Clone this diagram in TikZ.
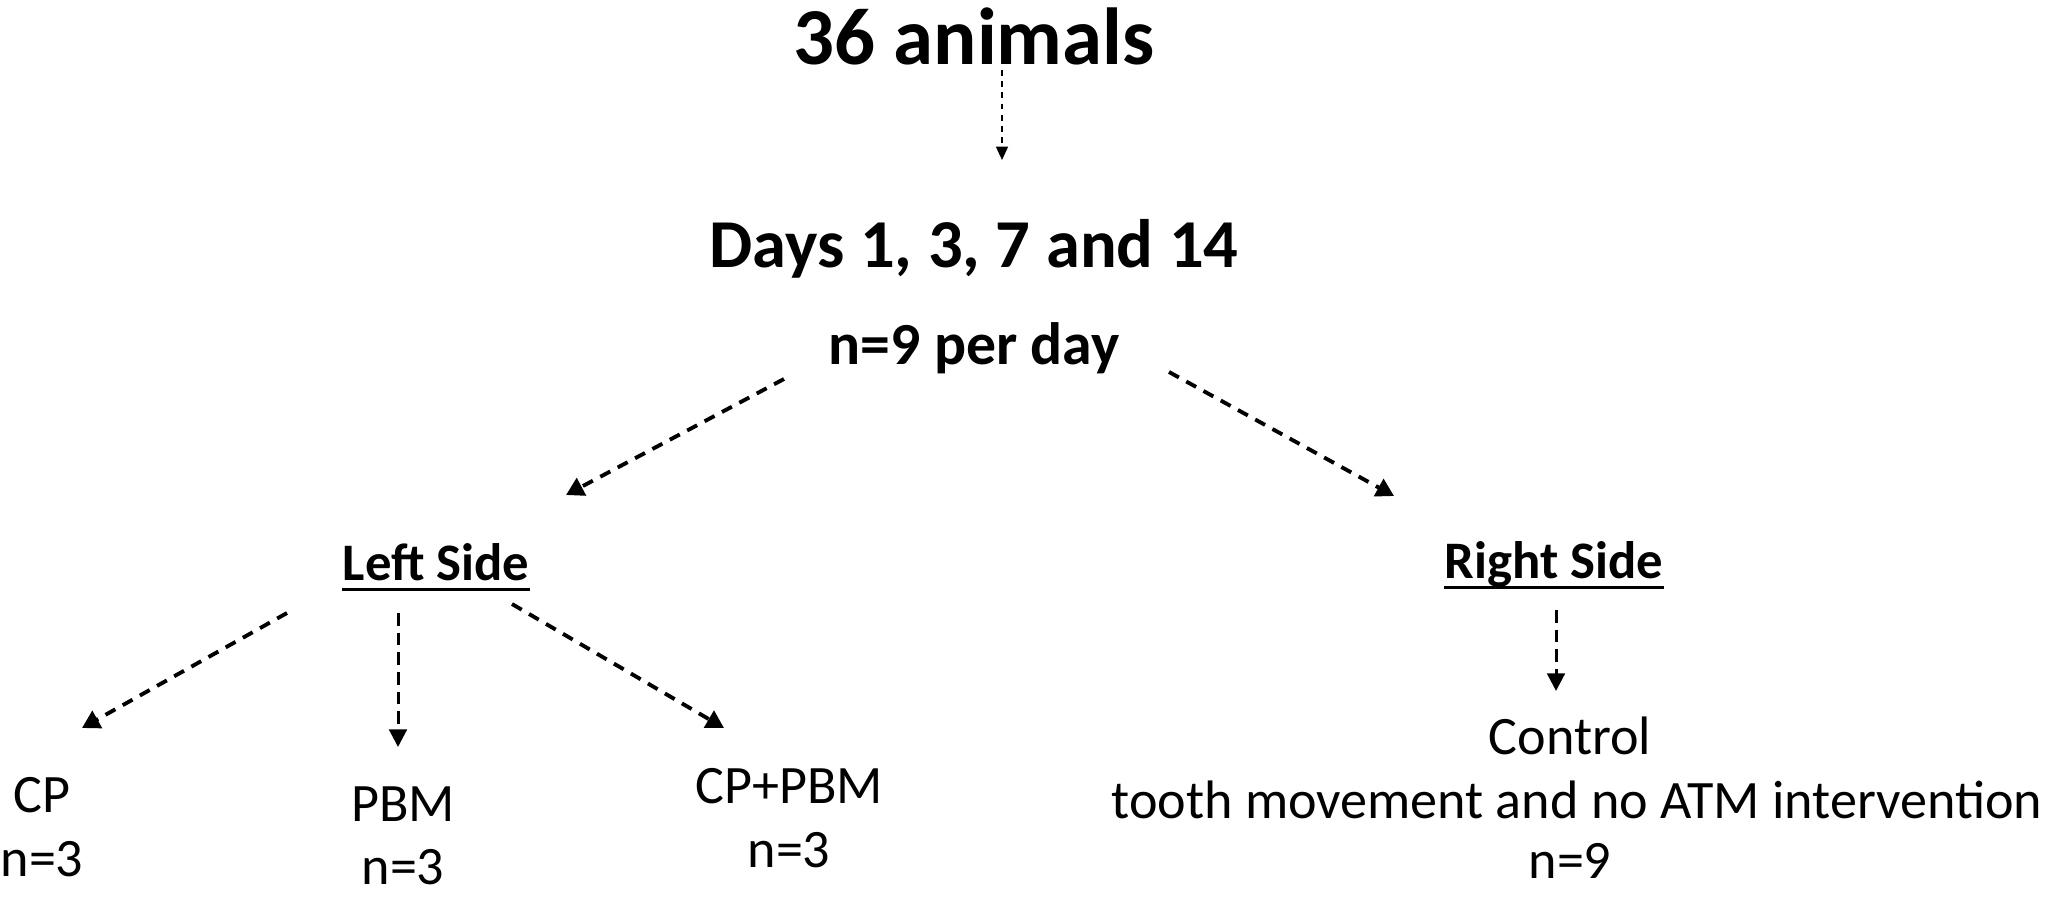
\documentclass[tikz,border=0pt]{standalone}
\usepackage{fontspec}
\setmainfont{Carlito}
\usetikzlibrary{arrows.meta}

\tikzset{
  txt/.style={inner sep=0pt,anchor=base},
  head/.style={font=\bfseries\fontsize{23}{27}\selectfont},
  sub/.style={font=\bfseries\fontsize{19.5}{23}\selectfont},
  side/.style={font=\bfseries\fontsize{15}{18}\selectfont},
  grp/.style={font=\fontsize{15.4}{18}\selectfont},
  arr/.style={dash pattern=on 3.2pt off 2.4pt,line width=1.1pt,-{Triangle[length=5pt,width=5.5pt]}},
  farr/.style={dash pattern=on 1.6pt off 1.6pt,line width=0.5pt,-{Triangle[length=3.8pt,width=3.4pt]}},
  varr/.style={dash pattern=on 3.6pt off 2pt,line width=0.85pt,-{Triangle[length=5pt,width=5pt]}}
}

\begin{document}
\begin{tikzpicture}
\useasboundingbox (0,0) rectangle (20.56,9.03);
\node (animals) at (9.74,8.38) [txt,head] {36 animals};
\node (days) at (9.74,6.35) [txt,sub] {Days 1, 3, 7 and 14};
\node (nday) at (9.74,5.38) [txt,sub,font=\bfseries\fontsize{17}{20}\selectfont] {n=9 per day};
%
\node (left) at (4.36,3.23) [txt,side] {Left Side};
\node (right) at (15.54,3.25) [txt,side] {Right Side};
\draw [line width=0.8pt] ([yshift=-2.6pt]left.base west) -- ([yshift=-2.6pt]left.base east);
\draw [line width=0.8pt] ([yshift=-2.6pt]right.base west) -- ([yshift=-2.6pt]right.base east);
%
\node (cp) at (0.42,0.91) [txt,grp] {CP};
\node (cpn) at (0.42,0.27) [txt,grp] {n=3};
\node (pbm) at (4.03,0.82) [txt,grp] {PBM};
\node (pbmn) at (4.03,0.19) [txt,grp] {n=3};
\node (cppbm) at (7.89,1.00) [txt,grp] {CP+PBM};
\node (cppbmn) at (7.89,0.36) [txt,grp] {n=3};
\node (ctrl) at (15.70,1.49) [txt,grp] {Control};
\node (tooth) at (15.77,0.85) [txt,grp] {tooth movement and no ATM intervention};
\node (ctrln) at (15.70,0.25) [txt,grp] {n=9};
%%
\coordinate (animals-out) at (10.02,8.33);
\coordinate (days-in) at (10.02,7.43);
\coordinate (nday-l) at (7.84,5.24);
\coordinate (left-in) at (5.66,4.08);
\coordinate (nday-r) at (11.69,5.31);
\coordinate (right-in) at (13.94,4.07);
\coordinate (left-a) at (2.87,2.90);
\coordinate (cp-in) at (0.82,1.75);
\coordinate (left-b) at (3.98,2.90);
\coordinate (pbm-in) at (3.98,1.56);
\coordinate (left-c) at (5.12,2.99);
\coordinate (cppbm-in) at (7.24,1.75);
\coordinate (right-a) at (15.56,2.93);
\coordinate (ctrl-in) at (15.56,2.12);
%
\draw [farr] (animals-out) -- (days-in);
\draw [arr] (nday-l) -- (left-in);
\draw [arr] (nday-r) -- (right-in);
\draw [arr] (left-a) -- (cp-in);
\draw [varr] (left-b) -- (pbm-in);
\draw [arr] (left-c) -- (cppbm-in);
\draw [varr] (right-a) -- (ctrl-in);
\end{tikzpicture}
\end{document}
